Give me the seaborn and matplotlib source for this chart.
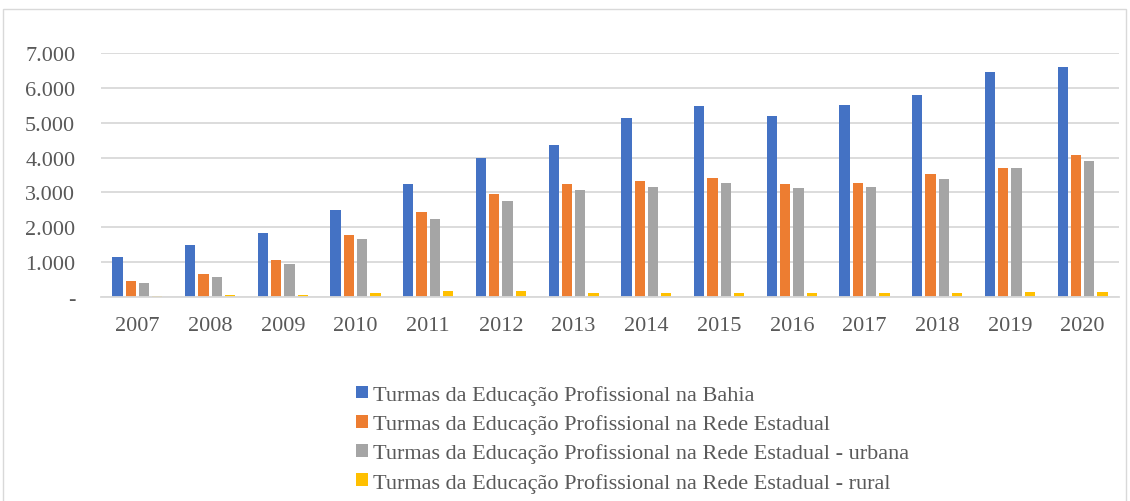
import pandas as pd
import matplotlib.pyplot as plt
import seaborn as sns
from matplotlib.patches import Rectangle, Patch

# Dados (numero de turmas)
anos = ["2007", "2008", "2009", "2010", "2011", "2012", "2013",
        "2014", "2015", "2016", "2017", "2018", "2019", "2020"]
bahia = [1160, 1480, 1845, 2510, 3240, 4000, 4365, 5140, 5480, 5205, 5500, 5800, 6460, 6590]
estadual = [470, 650, 1050, 1790, 2435, 2950, 3230, 3315, 3410, 3250, 3275, 3525, 3715, 4070]
urbana = [410, 585, 955, 1650, 2245, 2760, 3075, 3170, 3275, 3115, 3150, 3390, 3705, 3895]
rural = [40, 50, 70, 125, 165, 175, 125, 115, 105, 105, 105, 105, 155, 155]

series = ["Turmas da Educação Profissional na Bahia",
          "Turmas da Educação Profissional na Rede Estadual",
          "Turmas da Educação Profissional na Rede Estadual - urbana",
          "Turmas da Educação Profissional na Rede Estadual - rural"]
cores = ["#4472C4", "#ED7D31", "#A5A5A5", "#FFC000"]

y_ticks = [0, 1000, 2000, 3000, 4000, 5000, 6000, 7000]
y_labels = ["-", "1.000", "2.000", "3.000", "4.000", "5.000", "6.000", "7.000"]

df = pd.DataFrame({
    "ano": anos * 4,
    "serie": sum([[s] * len(anos) for s in series], []),
    "valor": bahia + estadual + urbana + rural,
})

sns.set_style("white")
plt.rcParams["font.family"] = ["Liberation Serif", "DejaVu Serif"]

fig = plt.figure(figsize=(11.3, 5.02), dpi=100)
ax = fig.add_axes([101 / 1130, 1 - 298 / 502, 1018 / 1130, 244 / 502])

sns.barplot(data=df, x="ano", y="valor", hue="serie", hue_order=series,
            palette=cores, width=0.73, gap=0.22, linewidth=0,
            ax=ax, legend=False, saturation=1)

ax.set_ylim(0, 7000)
ax.set_yticks(y_ticks)
ax.set_yticklabels(y_labels)
ax.set_xlim(-0.5, len(anos) - 0.5)
ax.set_xlabel("")
ax.set_ylabel("")
ax.yaxis.grid(True, color="#d9d9d9", linewidth=1.3)
ax.set_axisbelow(True)
for s in ["top", "right", "left"]:
    ax.spines[s].set_visible(False)
ax.spines["bottom"].set_color("#d9d9d9")
ax.spines["bottom"].set_linewidth(1.3)
ax.tick_params(axis="y", length=0, pad=18.5, labelsize=16, labelcolor="#595959")
ax.tick_params(axis="x", length=0, pad=14, labelsize=16, labelcolor="#595959")

# legenda
handles = [Patch(facecolor=c, edgecolor="none") for c in cores]
fig.legend(handles, series, loc="upper left", bbox_to_anchor=(356 / 1130, 1 - 386 / 502),
           frameon=False, fontsize=16, labelcolor="#595959",
           handlelength=0.54, handleheight=0.5, handletextpad=0.22,
           labelspacing=0.42, borderaxespad=0, borderpad=0)

# borda do grafico
fig.patches.append(Rectangle((3 / 1130, -0.01), 1123 / 1130, 1 - 10 / 502 + 0.01,
                             transform=fig.transFigure, fill=False,
                             edgecolor="#d9d9d9", linewidth=1))

fig.savefig("out.png", dpi=100)
